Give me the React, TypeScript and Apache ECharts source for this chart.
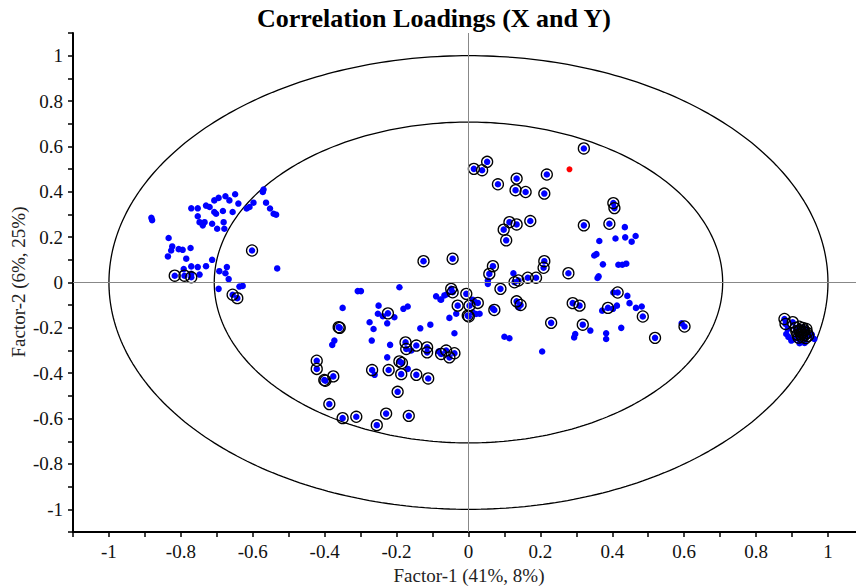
import React, { useEffect, useRef } from "react";
import * as echarts from "echarts";

const titleText = "Correlation Loadings (X and Y)";
const xAxisName = "Factor-1 (41%, 8%)";
const yAxisName = "Factor-2 (6%, 25%)";

// blue dots without ring
const plainPoints: number[][] = [
  [-0.882, 0.285], [-0.880, 0.275],
  [-0.771, 0.327], [-0.753, 0.327], [-0.730, 0.339], [-0.720, 0.333], [-0.707, 0.362], [-0.695, 0.373],
  [-0.676, 0.380], [-0.665, 0.362], [-0.649, 0.389], [-0.640, 0.348],
  [-0.707, 0.311], [-0.702, 0.303], [-0.683, 0.315], [-0.656, 0.311],
  [-0.753, 0.292], [-0.748, 0.266], [-0.734, 0.266], [-0.739, 0.252], [-0.713, 0.259], [-0.699, 0.237],
  [-0.681, 0.266], [-0.679, 0.237],
  [-0.617, 0.326], [-0.609, 0.333], [-0.598, 0.352], [-0.570, 0.410], [-0.572, 0.399], [-0.563, 0.352],
  [-0.552, 0.326], [-0.542, 0.303], [-0.535, 0.299],
  [-0.834, 0.196], [-0.824, 0.159], [-0.827, 0.141], [-0.836, 0.115], [-0.806, 0.147], [-0.795, 0.144],
  [-0.773, 0.152], [-0.785, 0.105],
  [-0.792, 0.059], [-0.771, 0.071], [-0.753, 0.068], [-0.730, 0.072], [-0.713, 0.100], [-0.748, 0.035],
  [-0.771, 0.038],
  [-0.693, 0.050], [-0.672, 0.068], [-0.676, 0.041], [-0.667, 0.015], [-0.695, -0.028], [-0.637, -0.018],
  [-0.628, -0.015], [-0.532, 0.062],
  [-0.308, -0.038], [-0.299, -0.038], [-0.192, -0.021],
  [-0.350, -0.112], [-0.250, -0.102], [-0.252, -0.138], [-0.238, -0.149], [-0.206, -0.153], [-0.226, -0.180],
  [-0.181, -0.116], [-0.169, -0.106],
  [-0.275, -0.175], [-0.264, -0.205], [-0.373, -0.256], [-0.379, -0.275], [-0.269, -0.256], [-0.218, -0.275],
  [-0.134, -0.202], [-0.106, -0.186], [-0.039, -0.224], [-0.053, -0.156], [-0.090, -0.061], [-0.078, -0.075],
  [-0.034, -0.138], [-0.159, -0.300], [-0.083, -0.304], [-0.226, -0.330], [-0.261, -0.407], [-0.169, -0.381],
  [-0.067, -0.057], [-0.060, -0.052], [-0.076, -0.076],
  [0.012, -0.076], [0.017, -0.084], [0.031, -0.138], [0.012, -0.131], [0.021, -0.139], [0.054, -0.006],
  [0.054, 0.009], [0.125, 0.041], [0.100, -0.239], [0.114, -0.246], [0.205, -0.304], [0.139, -0.109],
  [0.068, -0.115],
  [0.364, 0.183], [0.409, 0.194], [0.350, 0.119], [0.356, 0.125], [0.374, 0.080], [0.362, 0.027],
  [0.359, 0.020], [0.435, 0.244], [0.436, 0.199], [0.465, 0.205], [0.454, 0.180], [0.417, 0.078],
  [0.428, 0.078], [0.439, 0.083], [0.403, -0.044], [0.442, -0.059], [0.448, -0.091], [0.466, -0.112],
  [0.482, -0.106], [0.372, -0.124], [0.413, -0.102], [0.402, -0.116], [0.339, -0.212], [0.383, -0.224],
  [0.383, -0.249], [0.425, -0.200], [0.593, -0.180], [0.297, -0.227], [0.294, -0.242],
  [0.898, -0.256], [0.921, -0.268], [0.935, -0.267], [0.962, -0.249], [0.884, -0.227], [0.890, -0.240],
  [0.905, -0.250], [0.955, -0.230], [0.888, -0.205],
];

// blue dots with a black ring
const circledPoints: number[][] = [
  [-0.602, 0.141], [-0.817, 0.030], [-0.790, 0.030], [-0.771, 0.023], [-0.656, -0.054], [-0.643, -0.069],
  [-0.125, 0.094],
  [-0.224, -0.136], [-0.361, -0.197], [-0.358, -0.200], [-0.048, -0.028], [-0.044, -0.043], [-0.006, -0.050],
  [-0.030, -0.102], [-0.002, -0.146],
  [-0.175, -0.264], [-0.173, -0.293], [-0.145, -0.278], [-0.115, -0.286], [-0.115, -0.308], [-0.076, -0.315],
  [-0.062, -0.300], [-0.053, -0.330], [-0.039, -0.312],
  [-0.192, -0.348], [-0.185, -0.355], [-0.422, -0.345], [-0.422, -0.381], [-0.401, -0.430], [-0.398, -0.433],
  [-0.376, -0.414], [-0.268, -0.386], [-0.222, -0.386], [-0.187, -0.404], [-0.145, -0.407], [-0.112, -0.423],
  [-0.197, -0.482], [-0.387, -0.536], [-0.350, -0.598], [-0.312, -0.592], [-0.255, -0.629], [-0.229, -0.578],
  [-0.166, -0.588],
  [0.321, 0.591], [0.052, 0.532], [0.015, 0.501], [0.038, 0.495], [0.082, 0.433], [0.134, 0.458],
  [0.131, 0.407], [0.159, 0.399], [0.218, 0.476], [0.211, 0.392], [0.403, 0.350], [0.406, 0.328],
  [0.114, 0.266], [0.134, 0.256], [0.172, 0.271], [0.098, 0.233], [0.105, 0.186], [0.321, 0.252],
  [0.392, 0.259], [-0.044, 0.105], [0.068, 0.072], [0.058, 0.038], [0.211, 0.094], [0.209, 0.065],
  [0.278, 0.041], [0.128, 0.001], [0.139, 0.009], [0.165, 0.021], [0.188, 0.021], [0.089, -0.028],
  [0.415, -0.044], [0.388, -0.112], [0.485, -0.150], [0.318, -0.186], [0.519, -0.244], [0.601, -0.194],
  [0.309, -0.102], [0.290, -0.091], [0.230, -0.178], [0.134, -0.083], [0.145, -0.099], [0.072, -0.121],
  [0.026, -0.090], [0.003, -0.102], [0.001, -0.150],
  [0.879, -0.161], [0.882, -0.183], [0.902, -0.175],
  [0.910, -0.200], [0.920, -0.195], [0.930, -0.200], [0.940, -0.205], [0.912, -0.215], [0.922, -0.212],
  [0.932, -0.218], [0.942, -0.222], [0.915, -0.230], [0.925, -0.228], [0.935, -0.232], [0.945, -0.235],
  [0.918, -0.243], [0.928, -0.240], [0.938, -0.245], [0.927, -0.222], [0.933, -0.210],
];

const redPoints: number[][] = [[0.281, 0.499]];

const ellipseRadii = [1, Math.SQRT1_2];

function circlePoints(r: number): number[][] {
  const pts: number[][] = [];
  for (let i = 0; i <= 360; i++) {
    const a = (i * Math.PI) / 180;
    pts.push([r * Math.cos(a), r * Math.sin(a)]);
  }
  return pts;
}

const FONT = '"Liberation Serif", "Times New Roman", serif';

function tickLabel(v: number): string {
  const r = Math.round(v * 10);
  if (r % 2 !== 0) return "";
  return String(r / 10);
}

export default function App() {
  const ref = useRef<HTMLDivElement>(null);
  useEffect(() => {
    document.body.style.margin = "0";
    if (!ref.current) return;
    const chart = echarts.init(ref.current, undefined, { renderer: "svg" });
    const axisCommon = {
      type: "value" as const,
      interval: 0.1,
      splitLine: { show: false },
      axisLine: { onZero: false, lineStyle: { color: "#000", width: 2 } },
      axisTick: { show: true, inside: false, length: 5, lineStyle: { color: "#000", width: 1.5 } },
      axisLabel: { formatter: tickLabel, color: "#111", fontSize: 19, fontFamily: FONT, margin: 10 },
    };
    chart.setOption({
      animation: false,
      backgroundColor: "#fff",
      grid: { left: 73, top: 33, right: 0, bottom: 56, containLabel: false },
      xAxis: { ...axisCommon, min: -1.1, max: 1.078, axisLabel: { ...axisCommon.axisLabel, showMaxLabel: false } },
      yAxis: { ...axisCommon, min: -1.1, max: 1.1 },
      graphic: [
        {
          type: "text",
          x: 434,
          y: 18,
          style: { text: titleText, fontSize: 26, fontWeight: "bold", fontFamily: FONT, fill: "#000", align: "center", verticalAlign: "middle" },
        },
        {
          type: "text",
          x: 469,
          y: 575,
          style: { text: xAxisName, fontSize: 19, fontFamily: FONT, fill: "#222", align: "center", verticalAlign: "middle" },
        },
        {
          type: "text",
          x: 18,
          y: 282,
          rotation: Math.PI / 2,
          style: { text: yAxisName, fontSize: 19, fontFamily: FONT, fill: "#222", align: "center", verticalAlign: "middle" },
        },
      ],
      series: [
        ...ellipseRadii.map((r, i) => ({
          type: "line",
          name: "ellipse" + i,
          data: circlePoints(r),
          showSymbol: false,
          silent: true,
          lineStyle: { color: "#000", width: 1.3 },
          z: 1,
          ...(i === 0
            ? {
                markLine: {
                  silent: true,
                  symbol: "none",
                  label: { show: false },
                  lineStyle: { color: "#888", width: 1, type: "solid" },
                  data: [{ xAxis: 0 }, { yAxis: 0 }],
                },
              }
            : {}),
        })),
        {
          type: "scatter",
          name: "X",
          data: [...plainPoints, ...circledPoints],
          symbol: "circle",
          symbolSize: 6.5,
          itemStyle: { color: "#0000ff", opacity: 1 },
          z: 3,
        },
        {
          type: "scatter",
          name: "Y",
          data: circledPoints,
          symbol: "circle",
          symbolSize: 11,
          itemStyle: { color: "rgba(0,0,0,0)", borderColor: "#000", borderWidth: 1.3, opacity: 1 },
          z: 4,
        },
        {
          type: "scatter",
          name: "red",
          data: redPoints,
          symbol: "circle",
          symbolSize: 6,
          itemStyle: { color: "#ff0000", opacity: 1 },
          z: 5,
        },
      ],
    });
    return () => chart.dispose();
  }, []);
  return <div ref={ref} style={{ width: 856, height: 588 }} />;
}
